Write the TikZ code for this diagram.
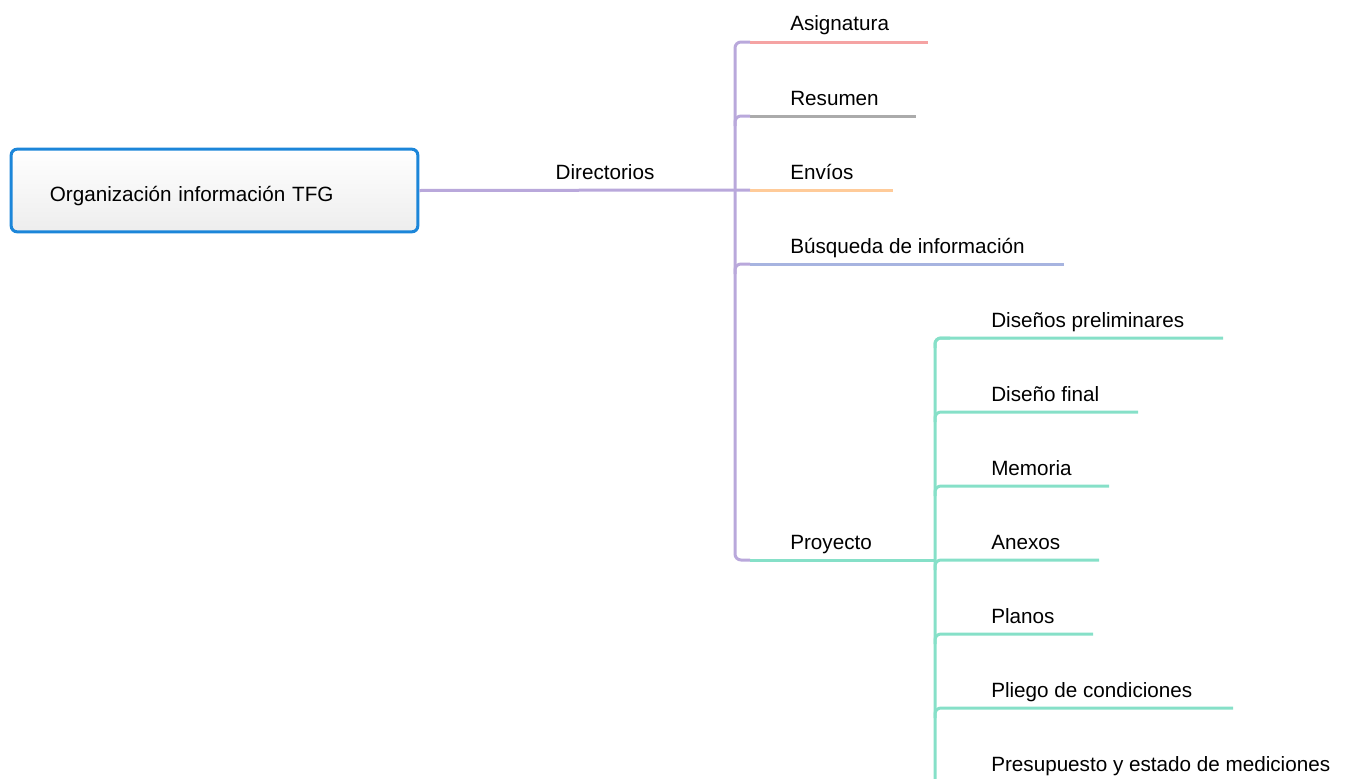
\documentclass[tikz,border=0pt]{standalone}
\usepackage{fontspec}
\setmainfont{Liberation Sans}
\usetikzlibrary{positioning}

\definecolor{rootblue}{HTML}{1C86D9}
\definecolor{dirpurple}{HTML}{B9A8DB}
\definecolor{asigpink}{HTML}{F5A3A3}
\definecolor{resgrey}{HTML}{ABABAB}
\definecolor{envorange}{HTML}{FFCB99}
\definecolor{busblue}{HTML}{A7B4E0}
\definecolor{proygreen}{HTML}{86E0C8}

\tikzset{
    rootbox/.style={draw=rootblue, line width=2.25pt, rounded corners=4.5pt,
        top color=white, bottom color=black!7, minimum width=305pt,
        minimum height=62pt, text width=247pt, align=left, inner xsep=0pt,
        text height=16pt, text depth=0.25pt},
    lbl/.style={anchor=base west, inner sep=0pt},
    branch/.style={line width=2.25pt},
}

\begin{document}
\begin{tikzpicture}[x=0.75pt, y=-0.75pt, font=\fontsize{15.5}{18}\selectfont]
    \useasboundingbox (0,0) rectangle (1363,778);

    % Central topic
    \node[rootbox] (root) at (214.5,190.5) {Organización información TFG};
    \coordinate (hub) at (735,190);
    \draw[branch, dirpurple] (root.east) -- (hub) -- (750,190);
    \node[anchor=base, inner sep=0pt] (dir) at (605,179) {Directorios};

    % Main bus
    \coordinate (bustop) at (735,42);
    \coordinate (busbot) at (735,560);
    \draw[branch, dirpurple, rounded corners=4.5pt] (750,42) -- (bustop) -- (busbot) -- (750,560);

    % Directorios children
    \foreach \y/\name/\txt/\col/\xend in {
        42/asig/Asignatura/asigpink/928,
        116/res/Resumen/resgrey/916,
        190/env/Envíos/envorange/893,
        264/bus/Búsqueda de información/busblue/1064,
        560/proy/Proyecto/proygreen/935} {
        \node[lbl] (\name) at (790,\y-11) {\txt};
        \coordinate (\name-a) at (750,\y);
        \coordinate (\name-b) at (\xend,\y);
        \draw[branch, \col] (\name-a) -- (\name-b);
    }
    % hooks onto the bus
    \foreach \name in {res,bus}
        \draw[branch, dirpurple, rounded corners=4.5pt] (hub |- \name-a) ++(0,10) -- (hub |- \name-a) -- (\name-a);

    % Proyecto bus
    \coordinate (subtop) at (935,338);
    \coordinate (subbot) at (935,800);
    \draw[branch, proygreen, rounded corners=4.5pt] (950,338) -- (subtop) -- (subbot);

    % Proyecto children
    \foreach \y/\name/\txt/\xend in {
        338/prel/Diseños preliminares/1223,
        412/fin/Diseño final/1138,
        486/mem/Memoria/1109,
        560/anx/Anexos/1099,
        634/pla/Planos/1093,
        708/plg/Pliego de condiciones/1233,
        782/pres/Presupuesto y estado de mediciones/1372} {
        \node[lbl] (\name) at (991,\y-11) {\txt};
        \coordinate (\name-b) at (\xend,\y);
        \draw[branch, proygreen, rounded corners=4.5pt] (935,\y+10) -- (subtop |- \name-b) -- (\name-b);
    }
\end{tikzpicture}
\end{document}
